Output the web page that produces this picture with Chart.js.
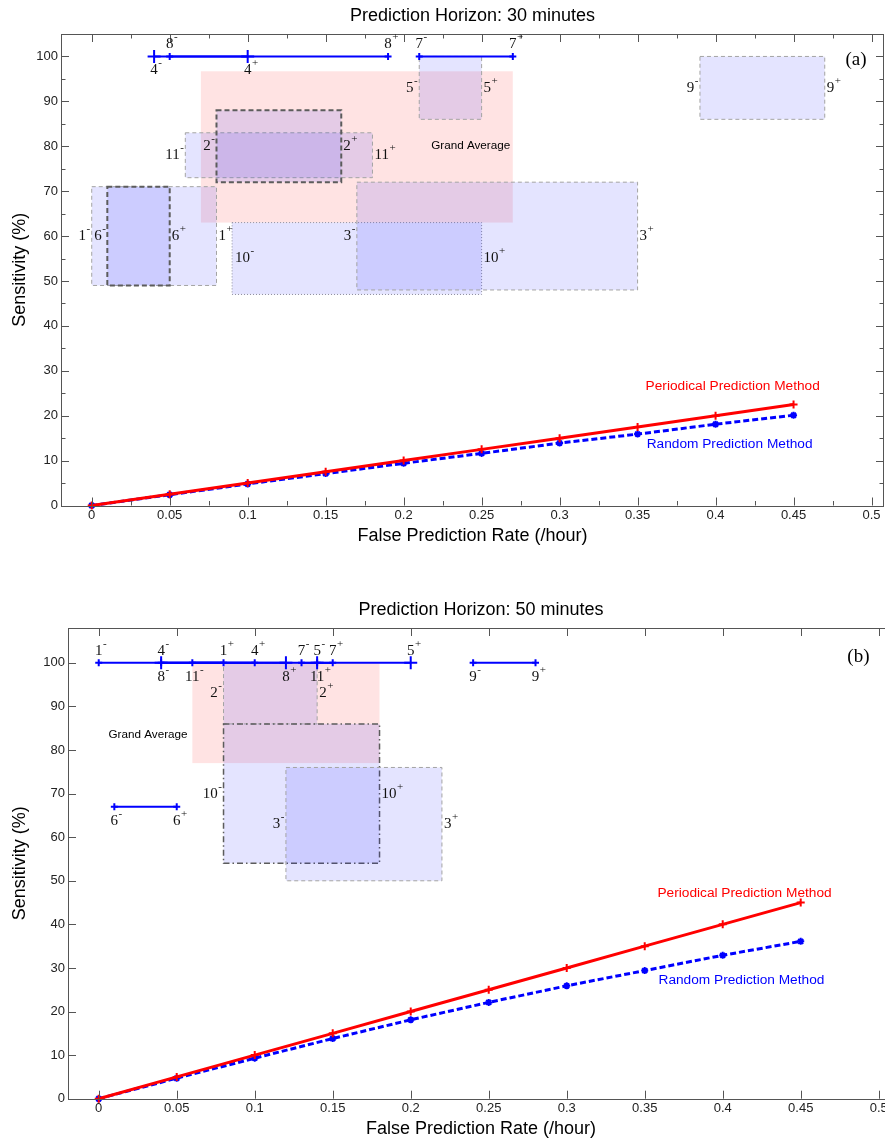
<!DOCTYPE html>
<html>
<head>
<meta charset="utf-8">
<title>Prediction Horizon</title>
<script src="https://cdn.jsdelivr.net/npm/chart.js@4.4.1/dist/chart.umd.min.js"></script>
<style>
  html, body { margin: 0; padding: 0; background: #fff; overflow: hidden; }
  #page { position: relative; width: 885px; height: 1140px; overflow: hidden; }
  #chartA { position: absolute; left: 0; top: 0; }
  #chartB { position: absolute; left: 7px; top: 594px; }
</style>
</head>
<body>
<div id="page">
  <canvas id="chartA" width="885" height="560"></canvas>
  <canvas id="chartB" width="888" height="546"></canvas>
</div>
<script>
// --- DATA ---

// false prediction rate (/hour) for both method curves
const fpr = [0, 0.05, 0.1, 0.15, 0.2, 0.25, 0.3, 0.35, 0.4, 0.45];
const periodical30 = [0, 2.5, 5, 7.5, 10, 12.5, 15, 17.5, 20, 22.5];
const random30 = [0, 2.4, 4.8, 7.1, 9.4, 11.6, 13.9, 15.9, 18.1, 20.1];
const periodical50 = [0, 5, 10, 15, 20, 25, 30, 35, 40, 45];
const random50 = [0, 4.7, 9.3, 13.8, 18.1, 22.1, 25.9, 29.4, 32.9, 36.1];

const xTicks = [0, 0.05, 0.1, 0.15, 0.2, 0.25, 0.3, 0.35, 0.4, 0.45, 0.5];
const yTicks = [0, 10, 20, 30, 40, 50, 60, 70, 80, 90, 100];

// 30 minutes: patient ranges drawn as boxes (x = FPR range, y = sensitivity range)
const boxNames30 = ["GA", "1", "6", "10", "3", "11", "2", "5", "9"];
const boxX0_30 = [0.07, 0, 0.01, 0.09, 0.17, 0.06, 0.08, 0.21, 0.39];
const boxX1_30 = [0.27, 0.08, 0.05, 0.25, 0.35, 0.18, 0.16, 0.25, 0.47];
const boxY0_30 = [63, 49, 49, 47, 48, 73, 72, 86, 86];
const boxY1_30 = [96.7, 71, 71, 63, 72, 83, 88, 100, 100];

// 30 minutes: patients with a single sensitivity value (horizontal ranges)
const segNames30 = ["4", "8", "7"];
const segX0_30 = [0.04, 0.05, 0.21];
const segX1_30 = [0.1, 0.19, 0.27];
const segY30 = [100, 100, 100];

// 50 minutes
const boxNames50 = ["GA", "2", "10", "3"];
const boxX0_50 = [0.06, 0.08, 0.08, 0.12];
const boxX1_50 = [0.18, 0.14, 0.18, 0.22];
const boxY0_50 = [77, 86, 54, 50];
const boxY1_50 = [100, 100, 86, 76];

const segNames50 = ["1", "4", "8", "11", "7", "5", "9", "6"];
const segX0_50 = [0, 0.04, 0.04, 0.06, 0.13, 0.14, 0.24, 0.01];
const segX1_50 = [0.08, 0.1, 0.12, 0.14, 0.15, 0.2, 0.28, 0.05];
const segY50 = [100, 100, 100, 100, 100, 100, 100, 67];

// --- STYLE ---

const SANS = "'Liberation Sans', Arial, Helvetica, sans-serif";
const SERIF = "'Liberation Serif', 'Times New Roman', serif";
const AXIS_COLOR = "#555";
const FILLS = { blue: "rgba(0,0,255,0.105)", pink: "rgba(255,0,0,0.11)" };
const EDGES = {
  none: null,
  light: { color: "#a3a3a3", width: 1, dash: [4, 3] },
  dark: { color: "#5c5c5c", width: 2, dash: [5, 3] },
  dotted: { color: "#8c8c9c", width: 1, dash: [1, 2] },
  dashdot: { color: "#5c5c5c", width: 1.5, dash: [6, 3, 1.5, 3] },
};

// [fill, edge, minus label side, plus label side]
const boxStyle30 = {
  GA: ["pink", "none"],
  "1": ["blue", "light", "left", "right"],
  "6": ["blue", "dark", "left", "right"],
  "10": ["blue", "dotted", "inside", "right"],
  "3": ["blue", "light", "left", "right"],
  "11": ["blue", "light", "left", "right"],
  "2": ["blue", "dark", "left", "right"],
  "5": ["blue", "light", "left", "right"],
  "9": ["blue", "light", "left", "right"],
};
const boxStyle50 = {
  GA: ["pink", "none"],
  "2": ["blue", "light", "left", "right"],
  "10": ["blue", "dashdot", "left", "right"],
  "3": ["blue", "light", "left", "right"],
};
// [label side, marker radius]
const segStyle30 = { "4": ["below", 6.5], "8": ["above", 3.5], "7": ["above", 3.5] };
const segStyle50 = {
  "1": ["above", 3.5], "4": ["above", 3.5], "8": ["below", 6.5], "11": ["below", 3.5],
  "7": ["above", 3.5], "5": ["above", 6.5], "9": ["below", 3.5], "6": ["below", 3.5],
};

const fmtTick = (v) => String(Math.round(v * 1000) / 1000);

// --- PLUGINS ---

// filled range boxes under the curves
const boxesPlugin = {
  id: "boxes",
  beforeDatasetsDraw(chart, args, opts) {
    const { ctx, scales: { x, y } } = chart;
    ctx.save();
    opts.names.forEach((name, i) => {
      const st = opts.styles[name];
      const l = x.getPixelForValue(opts.x0[i]);
      const r = x.getPixelForValue(opts.x1[i]);
      const t = y.getPixelForValue(opts.y1[i]);
      const b = y.getPixelForValue(opts.y0[i]);
      ctx.fillStyle = FILLS[st[0]];
      ctx.fillRect(l, t, r - l, b - t);
      const edge = EDGES[st[1]];
      if (edge) {
        ctx.strokeStyle = edge.color;
        ctx.lineWidth = edge.width;
        ctx.setLineDash(edge.dash);
        ctx.strokeRect(l, t, r - l, b - t);
      }
    });
    ctx.restore();
  },
};

// draws "num" with a small superscript sign
function drawTag(ctx, px, py, num, sign, align) {
  ctx.font = "15px " + SERIF;
  const w1 = ctx.measureText(num).width;
  ctx.font = "11px " + SERIF;
  const w2 = ctx.measureText(sign).width;
  let left = px;
  if (align === "right") left = px - w1 - w2;
  if (align === "center") left = px - w1 / 2;
  ctx.textAlign = "left";
  ctx.textBaseline = "middle";
  ctx.fillStyle = "#111";
  ctx.font = "15px " + SERIF;
  ctx.fillText(num, left, py);
  ctx.font = "11px " + SERIF;
  ctx.fillText(sign, left + w1 + 0.5, py - 7);
}

// MATLAB-like box with inward ticks + all text annotations
const annotPlugin = {
  id: "annot",
  afterDatasetsDraw(chart, args, opts) {
    const { ctx, chartArea: a, scales: { x, y } } = chart;
    ctx.save();

    // frame
    ctx.strokeStyle = AXIS_COLOR;
    ctx.lineWidth = 1;
    ctx.setLineDash([]);
    ctx.strokeRect(Math.round(a.left) + 0.5, Math.round(a.top) + 0.5,
      Math.round(a.right - a.left) - 1, Math.round(a.bottom - a.top));

    // ticks
    const tick = (x1, y1, x2, y2) => {
      ctx.beginPath(); ctx.moveTo(x1, y1); ctx.lineTo(x2, y2); ctx.stroke();
    };
    const xs = xTicks.map((v) => [v, 8]);
    const ys = yTicks.map((v) => [v, 8]);
    if (opts.minor) {
      xTicks.slice(0, -1).forEach((v) => xs.push([v + 0.025, 4.5]));
      yTicks.slice(0, -1).forEach((v) => ys.push([v + 5, 4.5]));
    }
    xs.forEach(([v, len]) => {
      const px = Math.round(x.getPixelForValue(v)) + 0.5;
      tick(px, a.bottom, px, a.bottom - len);
      tick(px, a.top, px, a.top + len);
    });
    ys.forEach(([v, len]) => {
      const py = Math.round(y.getPixelForValue(v)) + 0.5;
      tick(a.left, py, a.left + len, py);
      tick(a.right, py, a.right - len, py);
    });

    // box labels
    const b = opts.boxes;
    b.names.forEach((name, i) => {
      const st = b.styles[name];
      if (!st[2]) return;
      const py = y.getPixelForValue((b.y0[i] + b.y1[i]) / 2);
      const l = x.getPixelForValue(b.x0[i]);
      const r = x.getPixelForValue(b.x1[i]);
      if (st[2] === "inside") drawTag(ctx, l + 3, py, name, "-", "left");
      else drawTag(ctx, l - 2, py, name, "-", "right");
      drawTag(ctx, r + 2, py, name, "+", "left");
    });

    // single-value range labels
    const s = opts.segs;
    s.names.forEach((name, i) => {
      const side = s.styles[name][0];
      const py = y.getPixelForValue(s.y[i]) + (side === "above" ? -12 : 14);
      drawTag(ctx, x.getPixelForValue(s.x0[i]), py, name, "-", "center");
      drawTag(ctx, x.getPixelForValue(s.x1[i]), py, name, "+", "center");
    });

    // free text
    ctx.textAlign = "center";
    ctx.textBaseline = "middle";
    opts.texts.forEach((t) => {
      ctx.font = t.font;
      ctx.fillStyle = t.color;
      ctx.fillText(t.text, x.getPixelForValue(t.x), y.getPixelForValue(t.y));
    });
    ctx.restore();
  },
};

// --- CHART BUILDER ---

function pts(xs, ys) {
  return xs.map((v, i) => ({ x: v, y: ys[i] }));
}

function makeChart(canvasId, cfg) {
  const datasets = [
    {
      label: "Periodical Prediction Method",
      data: pts(fpr, cfg.periodical),
      showLine: true,
      borderColor: "#ff0000",
      backgroundColor: "#ff0000",
      borderWidth: 3,
      pointStyle: "cross",
      pointRadius: 4,
      pointBorderWidth: 2,
      clip: false,
    },
    {
      label: "Random Prediction Method",
      data: pts(fpr, cfg.random),
      showLine: true,
      borderColor: "#0000ff",
      backgroundColor: "#0000ff",
      borderWidth: 3,
      borderDash: [6, 3],
      pointStyle: "star",
      pointRadius: 3.5,
      pointBorderWidth: 2,
      clip: false,
    },
  ];
  cfg.segs.names.forEach((n, i) => {
    datasets.push({
      label: "patient " + n,
      data: [{ x: cfg.segs.x0[i], y: cfg.segs.y[i] }, { x: cfg.segs.x1[i], y: cfg.segs.y[i] }],
      showLine: true,
      borderColor: "#0000ff",
      backgroundColor: "#0000ff",
      borderWidth: 2,
      pointStyle: "cross",
      pointRadius: cfg.segs.styles[n][1],
      pointBorderWidth: 2,
      clip: false,
    });
  });

  return new Chart(document.getElementById(canvasId), {
    type: "scatter",
    data: { datasets },
    options: {
      responsive: false,
      animation: false,
      layout: { autoPadding: false, padding: { left: 0, right: 1, top: 0, bottom: 0 } },
      plugins: {
        legend: { display: false },
        tooltip: { enabled: false },
        title: {
          display: true,
          text: cfg.title,
          fullSize: false,
          color: "#000",
          font: { family: SANS, size: 18, weight: "normal" },
          padding: { top: 5, bottom: 7.4 },
        },
        boxes: cfg.boxes,
        annot: { minor: cfg.minor, boxes: cfg.boxes, segs: cfg.segs, texts: cfg.texts },
      },
      scales: {
        x: {
          type: "linear",
          min: -0.0197,
          max: cfg.xMax,
          afterBuildTicks: (sc) => { sc.ticks = xTicks.map((v) => ({ value: v })); },
          afterFit: (sc) => { sc.height = cfg.xAxisHeight; },
          grid: { display: false, drawTicks: false },
          border: { display: false },
          ticks: {
            padding: 2,
            autoSkip: false,
            maxRotation: 0,
            color: "#222",
            font: { family: SANS, size: 13 },
            callback: fmtTick,
          },
          title: {
            display: true,
            text: "False Prediction Rate (/hour)",
            color: "#000",
            font: { family: SANS, size: 18 },
            padding: { top: 0, bottom: cfg.xTitlePad },
          },
        },
        y: {
          type: "linear",
          min: 0,
          max: cfg.yMax,
          afterBuildTicks: (sc) => { sc.ticks = yTicks.map((v) => ({ value: v })); },
          afterFit: (sc) => { sc.width = 61; },
          grid: { display: false, drawTicks: false },
          border: { display: false },
          ticks: { padding: 3, color: "#222", font: { family: SANS, size: 13 } },
          title: {
            display: true,
            text: "Sensitivity (%)",
            color: "#000",
            font: { family: SANS, size: 18 },
            padding: { top: cfg.yTitlePad, bottom: 0 },
          },
        },
      },
    },
    plugins: [boxesPlugin, annotPlugin],
  });
}

// --- TOP: 30 minutes ---
makeChart("chartA", {
  title: "Prediction Horizon: 30 minutes",
  periodical: periodical30,
  random: random30,
  xMax: 0.508,
  yMax: 105,
  minor: true,
  xAxisHeight: 54.5,
  xTitlePad: 13,
  yTitlePad: 9,
  boxes: { names: boxNames30, x0: boxX0_30, x1: boxX1_30, y0: boxY0_30, y1: boxY1_30, styles: boxStyle30 },
  segs: { names: segNames30, x0: segX0_30, x1: segX1_30, y: segY30, styles: segStyle30 },
  texts: [
    { text: "Grand Average", x: 0.243, y: 80, color: "#000", font: "11.7px " + SANS },
    { text: "(a)", x: 0.49, y: 99.3, color: "#000", font: "19px " + SERIF },
    { text: "Periodical Prediction Method", x: 0.411, y: 26.5, color: "#ff0000", font: "13.7px " + SANS },
    { text: "Random Prediction Method", x: 0.409, y: 13.7, color: "#0000ff", font: "13.7px " + SANS },
  ],
});

// --- BOTTOM: 50 minutes ---
makeChart("chartB", {
  title: "Prediction Horizon: 50 minutes",
  periodical: periodical50,
  random: random50,
  xMax: 0.5098,
  yMax: 108,
  minor: false,
  xAxisHeight: 41.3,
  xTitlePad: 0.5,
  yTitlePad: 2,
  boxes: { names: boxNames50, x0: boxX0_50, x1: boxX1_50, y0: boxY0_50, y1: boxY1_50, styles: boxStyle50 },
  segs: { names: segNames50, x0: segX0_50, x1: segX1_50, y: segY50, styles: segStyle50 },
  texts: [
    { text: "Grand Average", x: 0.0316, y: 83.6, color: "#000", font: "11.7px " + SANS },
    { text: "(b)", x: 0.487, y: 101.3, color: "#000", font: "19px " + SERIF },
    { text: "Periodical Prediction Method", x: 0.414, y: 47.2, color: "#ff0000", font: "13.7px " + SANS },
    { text: "Random Prediction Method", x: 0.412, y: 27.2, color: "#0000ff", font: "13.7px " + SANS },
  ],
});
</script>
</body>
</html>
